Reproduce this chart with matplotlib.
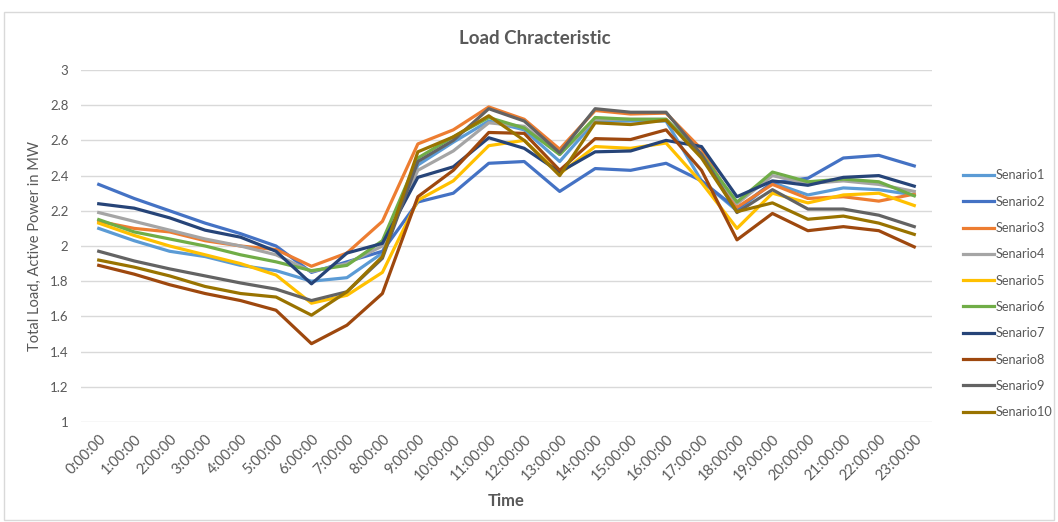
import matplotlib
matplotlib.use("Agg")
import matplotlib.pyplot as plt
from matplotlib.patches import Rectangle

plt.rcParams['font.family'] = ['Lato', 'DejaVu Sans']

hours = [f"{h}:00:00" for h in range(24)]

s1 = [2.10, 2.03, 1.97, 1.94, 1.89, 1.86, 1.80, 1.82, 1.96, 2.46, 2.59, 2.71, 2.66, 2.48, 2.71, 2.71, 2.71, 2.37, 2.20, 2.36, 2.29, 2.33, 2.32, 2.29]
s2 = [2.35, 2.27, 2.20, 2.13, 2.07, 2.00, 1.85, 1.91, 1.97, 2.25, 2.30, 2.47, 2.48, 2.31, 2.44, 2.43, 2.47, 2.37, 2.21, 2.36, 2.385, 2.50, 2.515, 2.455]
s3 = [2.14, 2.10, 2.08, 2.03, 2.00, 1.98, 1.885, 1.96, 2.14, 2.58, 2.66, 2.79, 2.72, 2.55, 2.77, 2.75, 2.755, 2.55, 2.22, 2.35, 2.27, 2.28, 2.255, 2.295]
s4 = [2.19, 2.14, 2.09, 2.04, 2.00, 1.95, 1.855, 1.90, 2.00, 2.43, 2.54, 2.70, 2.68, 2.52, 2.72, 2.72, 2.72, 2.52, 2.24, 2.40, 2.355, 2.37, 2.35, 2.31]
s5 = [2.13, 2.06, 2.00, 1.95, 1.90, 1.835, 1.675, 1.72, 1.85, 2.26, 2.37, 2.57, 2.60, 2.41, 2.565, 2.555, 2.585, 2.36, 2.10, 2.30, 2.245, 2.29, 2.30, 2.23]
s6 = [2.15, 2.08, 2.04, 2.00, 1.95, 1.91, 1.86, 1.89, 2.03, 2.50, 2.62, 2.73, 2.67, 2.52, 2.73, 2.72, 2.72, 2.52, 2.25, 2.42, 2.365, 2.38, 2.365, 2.285]
s7 = [2.24, 2.215, 2.16, 2.09, 2.05, 1.97, 1.785, 1.96, 2.015, 2.39, 2.45, 2.615, 2.555, 2.42, 2.535, 2.54, 2.60, 2.565, 2.28, 2.37, 2.345, 2.39, 2.40, 2.34]
s8 = [1.89, 1.84, 1.78, 1.73, 1.69, 1.635, 1.445, 1.55, 1.73, 2.28, 2.43, 2.645, 2.64, 2.43, 2.61, 2.605, 2.66, 2.43, 2.035, 2.185, 2.087, 2.11, 2.087, 1.995]
s9 = [1.97, 1.915, 1.87, 1.83, 1.79, 1.755, 1.69, 1.74, 1.93, 2.48, 2.60, 2.78, 2.71, 2.53, 2.78, 2.76, 2.76, 2.52, 2.19, 2.32, 2.21, 2.21, 2.175, 2.11]
s10 = [1.92, 1.88, 1.83, 1.77, 1.73, 1.71, 1.607, 1.74, 1.94, 2.535, 2.62, 2.74, 2.60, 2.40, 2.70, 2.69, 2.715, 2.50, 2.195, 2.245, 2.152, 2.17, 2.13, 2.066]

series = [s1, s2, s3, s4, s5, s6, s7, s8, s9, s10]
names = [f"Senario{i}" for i in range(1, 11)]
colors = ["#5B9BD5", "#4472C4", "#ED7D31", "#A5A5A5", "#FFC000",
          "#70AD47", "#264478", "#9E480E", "#636363", "#997300"]

yticks = [1, 1.2, 1.4, 1.6, 1.8, 2, 2.2, 2.4, 2.6, 2.8, 3]
ytick_labels = ["1", "1.2", "1.4", "1.6", "1.8", "2", "2.2", "2.4", "2.6", "2.8", "3"]

W, H = 1058, 522
fig = plt.figure(figsize=(W / 100, H / 100), dpi=100)
fig.patches.append(Rectangle((4 / W, 2 / H), 1050 / W, (H - 14) / H, transform=fig.transFigure,
                             fill=False, edgecolor="#D9D9D9", linewidth=1))

ax = fig.add_axes([81 / W, 1 - 422 / H, (932 - 81) / W, (422 - 70) / H])
x = list(range(len(hours)))
for vals, name, c in zip(series, names, colors):
    ax.plot(x, vals, color=c, linewidth=2.3, label=name, solid_joinstyle="round")

ax.set_xlim(-0.5, len(hours) - 0.5)
ax.set_ylim(1, 3)
ax.set_yticks(yticks)
ax.set_yticklabels(ytick_labels)
ax.set_xticks(x)
ax.set_xticklabels(hours, rotation=45, ha="right", va="top", rotation_mode="anchor")
ax.tick_params(axis="both", length=0, colors="#595959")
ax.tick_params(axis="y", pad=9, labelsize=9.5)
ax.tick_params(axis="x", pad=7, labelsize=10.5)
ax.grid(axis="y", color="#D9D9D9", linewidth=1)
ax.set_axisbelow(True)
for s in ax.spines.values():
    s.set_visible(False)

ax.set_xlabel("Time", fontsize=12, fontweight="bold", color="#595959", labelpad=7)
ax.set_ylabel("Total Load, Active Power in MW", fontsize=10.5, color="#595959", labelpad=6)
fig.text(535 / W, 1 - 38 / H, "Load Chracteristic", fontsize=13.5, fontweight="bold",
         color="#595959", ha="center", va="center")

leg = fig.legend(loc="upper left", bbox_to_anchor=(957 / W, 1 - 163 / H), frameon=False,
                 fontsize=9.2, labelspacing=1.12, handlelength=2.4, handletextpad=0.1,
                 borderpad=0, labelcolor="#595959")

fig.savefig("out.png", dpi=100)
